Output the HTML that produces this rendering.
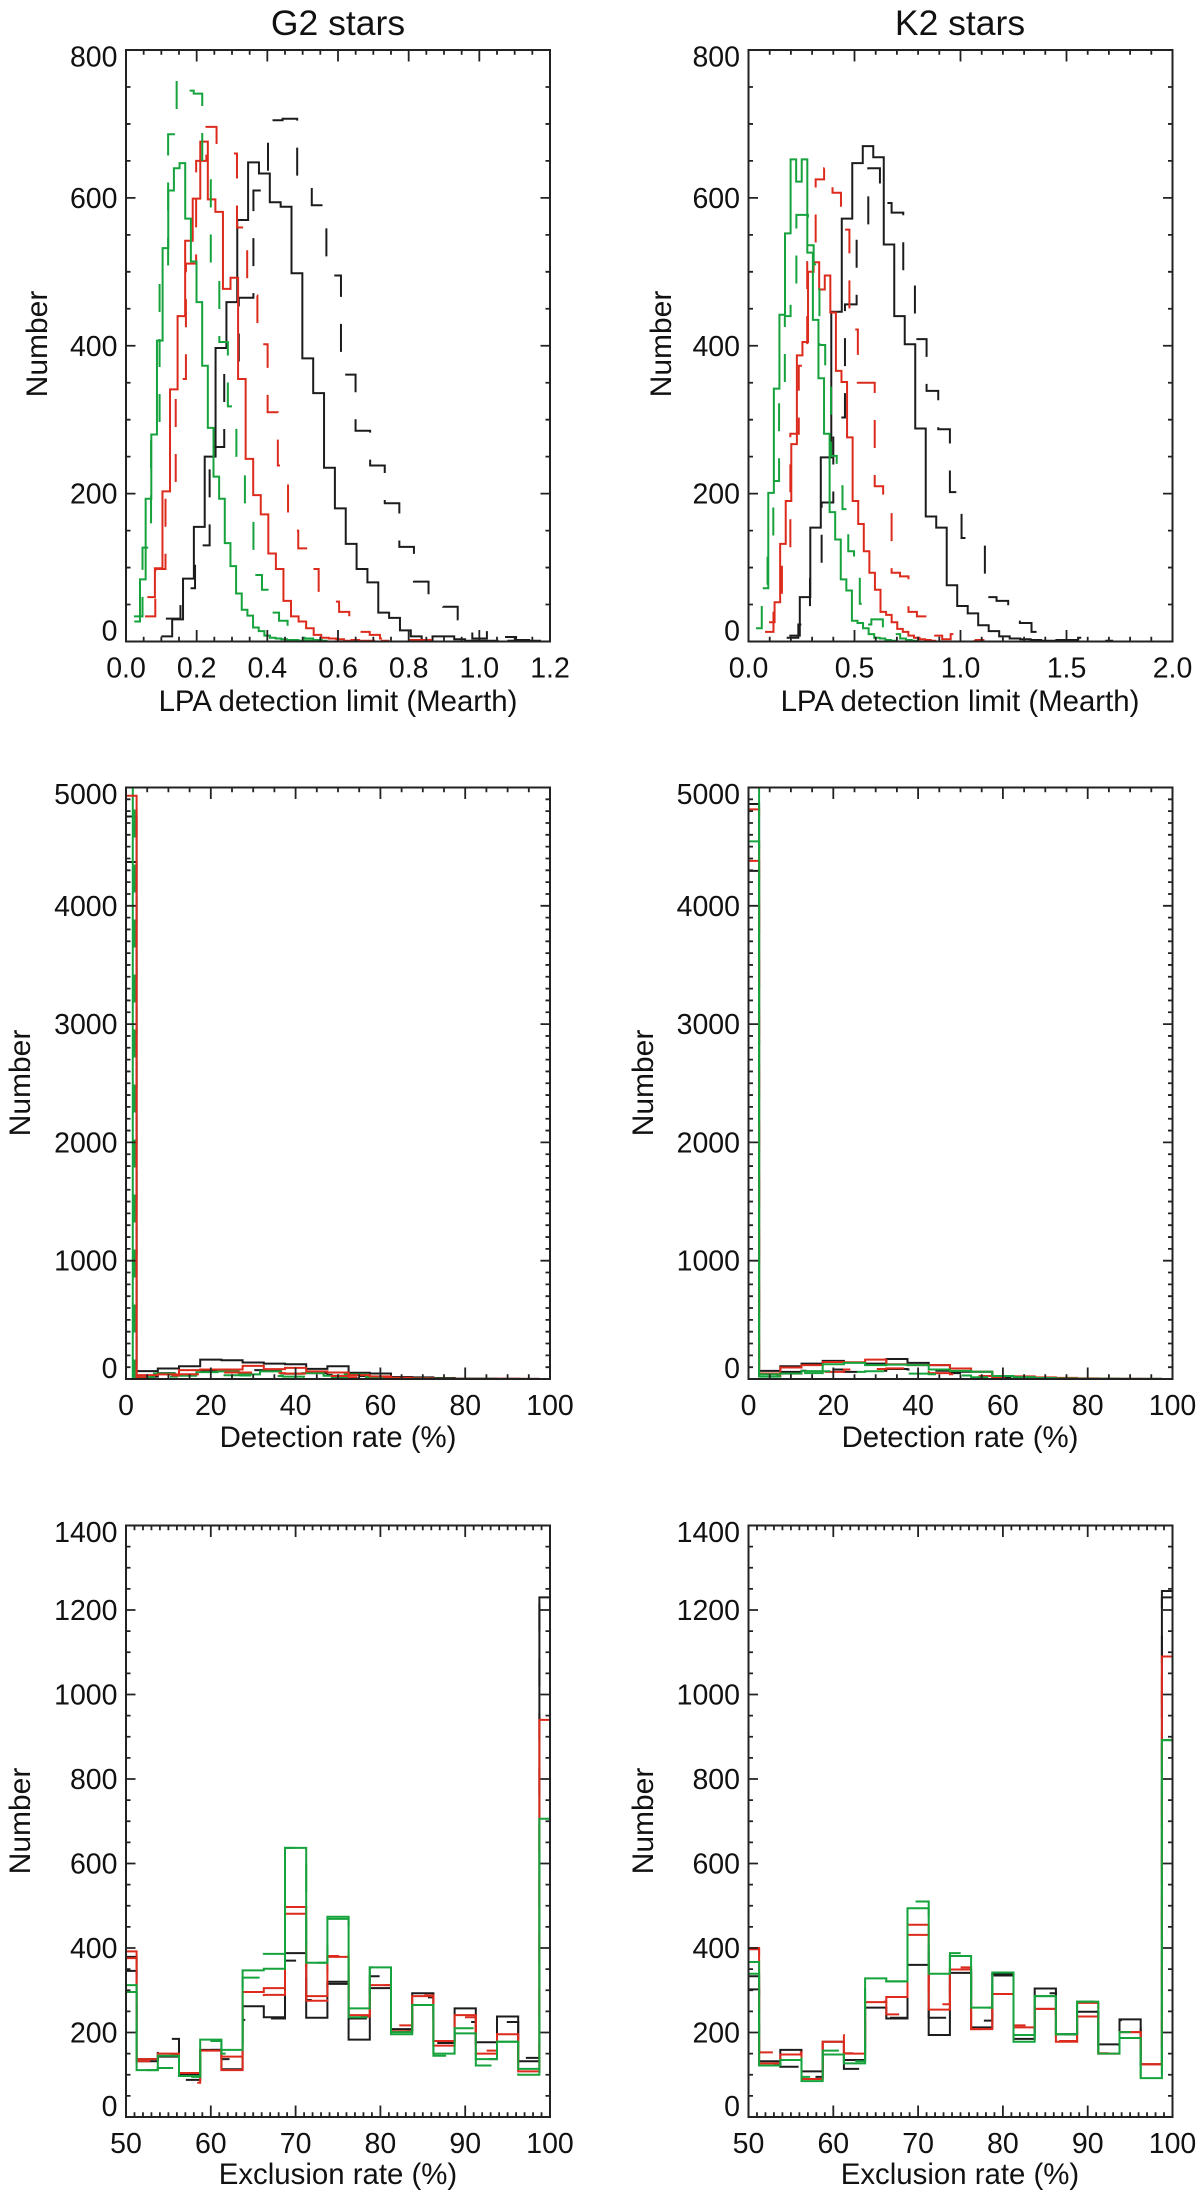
<!DOCTYPE html>
<html lang="en">
<head>
<meta charset="utf-8">
<title>LPA detection limit, detection rate and exclusion rate histograms</title>
<style>
html,body{margin:0;padding:0;background:#fff;width:1200px;height:2200px;overflow:hidden}
svg{display:block}
text{font-family:"Liberation Sans",Arial,sans-serif;fill:#111}
.tick{font-size:28.5px}
.axt{font-size:29.4px}
.yt{font-size:30px}
.ttl{font-size:35.5px}
</style>
</head>
<body>
<svg id="fig" xmlns="http://www.w3.org/2000/svg" width="1200" height="2200" viewBox="0 0 1200 2200">
  <rect width="1200" height="2200" fill="#fff"/>
  <text class="ttl" x="338" y="35" text-anchor="middle">G2 stars</text>
  <text class="ttl" x="960" y="35" text-anchor="middle">K2 stars</text>

  <text class="axt" x="338" y="711" text-anchor="middle">LPA detection limit (Mearth)</text>
  <text class="axt" x="960" y="711" text-anchor="middle">LPA detection limit (Mearth)</text>
  <text class="axt" x="338" y="1447" text-anchor="middle">Detection rate (%)</text>
  <text class="axt" x="960" y="1447" text-anchor="middle">Detection rate (%)</text>
  <text class="axt" x="338" y="2184" text-anchor="middle">Exclusion rate (%)</text>
  <text class="axt" x="960" y="2184" text-anchor="middle">Exclusion rate (%)</text>

  <text class="yt" transform="translate(47 344) rotate(-90)" text-anchor="middle">Number</text>
  <text class="yt" transform="translate(671 344) rotate(-90)" text-anchor="middle">Number</text>
  <text class="yt" transform="translate(30 1083) rotate(-90)" text-anchor="middle">Number</text>
  <text class="yt" transform="translate(653 1083) rotate(-90)" text-anchor="middle">Number</text>
  <text class="yt" transform="translate(30 1821) rotate(-90)" text-anchor="middle">Number</text>
  <text class="yt" transform="translate(653 1821) rotate(-90)" text-anchor="middle">Number</text>
</svg>
<script>
/* ---------- tick labels ---------- */
const limitYTicks = [0, 200, 400, 600, 800];
const detectionYTicks = [0, 1000, 2000, 3000, 4000, 5000];
const exclusionYTicks = [0, 200, 400, 600, 800, 1000, 1200, 1400];
const g2LimitXTicks = ["0.0", "0.2", "0.4", "0.6", "0.8", "1.0", "1.2"];
const k2LimitXTicks = ["0.0", "0.5", "1.0", "1.5", "2.0"];
const detectionXTicks = ["0", "20", "40", "60", "80", "100"];
const exclusionXTicks = ["50", "60", "70", "80", "90", "100"];

/* ---------- G2 detection limit: first bin edge, bin width, counts ---------- */
const g2LimitBlackSolidStart = 0.1, g2LimitBlackSolidBin = 0.0307;
const g2LimitBlackSolid = [7,30,85,155,250,397,459,570,648,633,594,588,498,383,336,235,180,132,98,80,39,32,15,7,2,7,7,3,1,1,1,0,1,1,1];
const g2LimitBlackDashStart = 0.1128, g2LimitBlackDashBin = 0.0413;
const g2LimitBlackDash = [31,72,130,263,370,465,610,705,707,620,590,495,361,285,238,187,128,81,63,47,30,4,16,6,2,2];
const g2LimitRedSolidStart = 0.0604, g2LimitRedSolidBin = 0.0214;
const g2LimitRedSolid = [60,99,203,341,440,542,599,676,598,581,477,492,355,247,198,172,119,98,55,34,27,18,9,5,4,3,1,2,1,1,0,1];
const g2LimitRedDashStart = 0.054, g2LimitRedDashBin = 0.0289;
const g2LimitRedDash = [34,98,215,355,511,650,696,660,660,560,468,402,310,238,150,126,98,54,54,40,19,13,9,4,0,0,2,2,1];
const g2LimitGreenSolidStart = 0.0236, g2LimitGreenSolidBin = 0.016;
const g2LimitGreenSolid = [27,84,193,280,407,532,610,640,647,572,514,459,373,289,223,193,133,102,65,43,35,19,14,8,5,4,3,2,2,1,1,1];
const g2LimitGreenDashStart = 0.0226, g2LimitGreenDashBin = 0.02415;
const g2LimitGreenDash = [34,127,277,510,686,761,745,741,624,495,405,318,236,179,90,70,39,28,20,5,4,2,1,1];

/* ---------- K2 detection limit ---------- */
const k2LimitBlackSolidStart = 0.1925, k2LimitBlackSolidBin = 0.0495;
const k2LimitBlackSolid = [8,60,154,249,446,572,647,670,655,537,440,402,288,169,154,76,48,38,22,14,7,4,3,2,1,1,1];
const k2LimitBlackDashStart = 0.18, k2LimitBlackDashBin = 0.055;
const k2LimitBlackDash = [5,23,96,188,303,456,559,640,593,580,495,409,339,287,202,140,132,60,55,37,25,13,4,2,2,5,1,1];
const k2LimitRedSolidStart = 0.0967, k2LimitRedSolidBin = 0.0263;
const k2LimitRedSolid = [26,53,132,190,267,387,405,500,513,476,495,445,366,351,276,190,159,122,93,70,40,36,26,17,13,8,5,3,2,1];
const k2LimitRedDashStart = 0.078, k2LimitRedDashBin = 0.0398;
const k2LimitRedDash = [13,39,127,281,373,541,625,640,607,557,422,350,350,210,184,93,88,40,34,26,8,3,10,8,1,2];
const k2LimitGreenSolidStart = 0.067, k2LimitGreenSolidBin = 0.0263;
const k2LimitGreenSolid = [72,201,342,442,552,652,622,652,526,435,356,281,175,138,84,69,28,25,18,10,5,4,2,1];
const k2LimitGreenDashStart = 0.0354, k2LimitGreenDashBin = 0.0272;
const k2LimitGreenDash = [18,75,132,217,347,440,484,577,577,536,510,401,345,251,210,179,122,114,51,23,30,30,8,5,10,4,2,1];

/* ---------- G2 detection rate (bins of 5 %, centred near multiples of 5) ---------- */
const detectionStart = -2.5, detectionBin = 5;
const g2DetGreenSolidStart = -3.4, g2DetGreenDashStart = -3.0;
const g2DetBlackSolid = [4755,67,89,108,164,158,139,130,125,86,108,53,47,17,14,8,3,3,2,1];
const g2DetBlackDash = [4370,20,50,60,70,75,75,70,60,50,35,25,15,8,5,3,1,0,0,0];
const g2DetRedSolid = [4930,33,39,75,80,80,111,83,94,64,55,33,22,11,5,1,1,1,1,1];
const g2DetRedDash = [5100,15,30,40,50,55,55,50,45,35,25,15,10,5,2,1,1,1,1,1];
const g2DetGreenSolid = [5100,16,47,36,58,64,39,64,44,50,28,39,17,10,6,4,1,1,0,0];
const g2DetGreenDash = [5100,10,20,28,30,32,30,25,20,15,10,6,3,1,1,0,0,0,0,0];

/* ---------- K2 detection rate ---------- */
const k2DetBlackSolid = [4860,69,108,130,153,139,130,169,136,117,61,61,25,19,8,5,3,2,1,1];
const k2DetBlackDash = [4295,30,60,70,80,60,70,85,80,70,50,25,12,5,2,1,1,1,0,0];
const k2DetRedSolid = [4380,47,97,117,144,142,164,125,117,117,89,61,25,22,14,10,5,3,2,1];
const k2DetRedDash = [4815,25,45,70,60,80,85,90,75,50,40,25,12,5,3,1,1,1,1,0];
const k2DetGreenSolid = [5100,39,47,67,125,136,117,122,117,80,69,61,25,16,8,4,2,2,1,1];
const k2DetGreenDash = [4545,20,35,50,65,60,65,60,45,40,30,15,8,3,1,1,0,0,0,0];

/* ---------- exclusion rate (bins of 2.5 %, centred on 50, 52.5 ... 100) ---------- */
const exclusionStart = 48.75, exclusionBin = 2.5;
const g2ExcBlackSolid = [379,132,143,100,159,113,262,236,388,235,315,183,305,208,293,180,257,177,238,132,1230];
const g2ExcBlackDash = [346,137,185,88,159,137,230,233,370,277,320,233,333,203,283,175,225,137,225,140,1225];
const g2ExcRedSolid = [392,137,150,104,157,111,296,305,481,286,379,241,312,203,286,169,241,150,196,108,940];
const g2ExcRedDash = [376,132,148,81,157,143,270,289,497,275,381,238,312,217,288,180,236,157,201,108,700];
const g2ExcGreenSolid = [312,111,145,97,183,159,347,351,637,365,474,257,354,201,265,150,198,137,178,114,706];
const g2ExcGreenDash = [296,111,116,95,180,150,330,386,637,365,469,236,354,196,265,145,210,122,178,100,632];

const k2ExcBlackSolid = [333,132,159,108,178,135,259,233,360,194,341,212,339,185,304,196,249,172,231,125,1245];
const k2ExcBlackDash = [302,127,119,95,151,114,233,235,397,235,349,228,335,185,293,196,249,171,229,146,1230];
const k2ExcRedSolid = [400,127,148,90,178,150,272,284,455,254,349,208,291,212,256,178,238,150,201,125,1090];
const k2ExcRedDash = [397,153,153,95,194,151,273,243,431,267,354,208,291,217,256,180,270,151,201,125,1050];
const k2ExcGreenSolid = [367,122,135,85,148,127,328,321,494,339,381,259,342,178,286,196,273,150,187,92,892];
const k2ExcGreenDash = [339,122,143,95,157,132,310,321,510,339,388,259,330,194,286,196,273,150,201,92,892];

/* ---------- drawing ---------- */
const SVGNS = "http://www.w3.org/2000/svg";
const fig = document.getElementById("fig");
const BLACK = "#1c1c1c", RED = "#dc2b1c", GREEN = "#16a23c";
const PLOT_W = 424, PLOT_H = 591.5;

function node(tag, attrs, parent) {
  const el = document.createElementNS(SVGNS, tag);
  for (const k in attrs) el.setAttribute(k, attrs[k]);
  parent.appendChild(el);
  return el;
}

function drawPanel(p) {
  const g = node("g", {}, fig);
  
  
  const sx = v => p.left + (v - p.xMin) / (p.xMax - p.xMin) * PLOT_W;
  const sy = v => p.top + PLOT_H - (v - p.yMin) / (p.yMax - p.yMin) * PLOT_H;
  const clipId = p.id + "-clip";
  const cp = node("clipPath", {id: clipId}, g);
  node("rect", {x: p.left, y: p.top, width: PLOT_W, height: PLOT_H}, cp);

  const marks = node("g", {"clip-path": "url(#" + clipId + ")", fill: "none", "stroke-width": 2}, g);
  
  
  p.series.forEach(s => {
    let d = "M" + sx(s.start).toFixed(2) + " " + sy(s.counts[0]).toFixed(2);
    s.counts.forEach((c, i) => {
      d += "V" + sy(c).toFixed(2) + "H" + sx(s.start + (i + 1) * s.bin).toFixed(2);
    });
    const path = node("path", {d: d, stroke: s.color}, marks);
    if (s.dash) path.setAttribute("stroke-dasharray", "28 27");
    
    
  });

  const ticks = node("g", {stroke: "#222", "stroke-width": 1.8, fill: "none"}, g);
  
  
  let tk = "";
  const xCount = Math.round((p.xMax - p.xMin) / p.xMinor);
  const xEvery = Math.round(p.xMajor / p.xMinor);
  for (let i = 0; i <= xCount; i++) {
    const x = sx(p.xMin + i * p.xMinor).toFixed(2);
    const len = i % xEvery === 0 ? 11.5 : 4.8;
    tk += "M" + x + " " + (p.top + PLOT_H) + "v" + (-len) + "M" + x + " " + p.top + "v" + len;
  }
  const yCount = Math.round((p.yMax - p.yMin) / p.yMinor);
  const yEvery = Math.round(p.yMajor / p.yMinor);
  for (let i = 0; i <= yCount; i++) {
    const y = sy(p.yMin + i * p.yMinor).toFixed(2);
    const len = i % yEvery === 0 ? 9.5 : 4.5;
    tk += "M" + p.left + " " + y + "h" + len + "M" + (p.left + PLOT_W) + " " + y + "h" + (-len);
  }
  node("path", {d: tk}, ticks);

  const frame = node("rect", {x: p.left, y: p.top, width: PLOT_W, height: PLOT_H, fill: "none", stroke: "#222", "stroke-width": 2}, g);
  
  

  p.yTicks.forEach((v, i) => {
    let y = sy(v) + 10;
    if (i === 0) y = p.top + PLOT_H - 1;
    if (i === p.yTicks.length - 1) y = p.top + 16.5;
    const t = node("text", {class: "tick", x: p.left - 8.5, y: y.toFixed(2), "text-anchor": "end"}, g);
    t.textContent = String(v);
    
    
  });
  p.xTicks.forEach((label, i) => {
    const v = p.xMin + i * p.xMajor;
    const t = node("text", {class: "tick", x: sx(v).toFixed(2), y: p.top + PLOT_H + 36, "text-anchor": "middle"}, g);
    t.textContent = label;
    
    
  });
}

function six(start, bin, bs, bd, rs, rd, gs, gd, gsStart, gdStart) {
  return [
    {name: "black-dashed", color: BLACK, dash: true, start, bin, counts: bd},
    {name: "black-solid", color: BLACK, dash: false, start, bin, counts: bs},
    {name: "green-dashed", color: GREEN, dash: true, start: gdStart === undefined ? start : gdStart, bin, counts: gd},
    {name: "green-solid", color: GREEN, dash: false, start: gsStart === undefined ? start : gsStart, bin, counts: gs},
    {name: "red-dashed", color: RED, dash: true, start, bin, counts: rd},
    {name: "red-solid", color: RED, dash: false, start, bin, counts: rs}
  ];
}
function sixGreenTop(start, bin, bs, bd, rs, rd, gs, gd) {
  const s = six(start, bin, bs, bd, rs, rd, gs, gd);
  return [s[0], s[1], s[4], s[5], s[2], s[3]];
}

const TOPS = [50, 787.5, 1525.5];
const LEFTS = [126, 748.5];

drawPanel({id: "g2-limit", left: LEFTS[0], top: TOPS[0], xMin: 0, xMax: 1.2, xMajor: 0.2, xMinor: 0.05, yMin: 0, yMax: 800, yMajor: 200, yMinor: 50, xTicks: g2LimitXTicks, yTicks: limitYTicks, series: [
  {name: "black-dashed", color: BLACK, dash: true, start: g2LimitBlackDashStart, bin: g2LimitBlackDashBin, counts: g2LimitBlackDash},
  {name: "black-solid", color: BLACK, dash: false, start: g2LimitBlackSolidStart, bin: g2LimitBlackSolidBin, counts: g2LimitBlackSolid},
  {name: "red-dashed", color: RED, dash: true, start: g2LimitRedDashStart, bin: g2LimitRedDashBin, counts: g2LimitRedDash},
  {name: "red-solid", color: RED, dash: false, start: g2LimitRedSolidStart, bin: g2LimitRedSolidBin, counts: g2LimitRedSolid},
  {name: "green-dashed", color: GREEN, dash: true, start: g2LimitGreenDashStart, bin: g2LimitGreenDashBin, counts: g2LimitGreenDash},
  {name: "green-solid", color: GREEN, dash: false, start: g2LimitGreenSolidStart, bin: g2LimitGreenSolidBin, counts: g2LimitGreenSolid}
]});
drawPanel({id: "k2-limit", left: LEFTS[1], top: TOPS[0], xMin: 0, xMax: 2, xMajor: 0.5, xMinor: 0.1, yMin: 0, yMax: 800, yMajor: 200, yMinor: 50, xTicks: k2LimitXTicks, yTicks: limitYTicks, series: [
  {name: "black-dashed", color: BLACK, dash: true, start: k2LimitBlackDashStart, bin: k2LimitBlackDashBin, counts: k2LimitBlackDash},
  {name: "black-solid", color: BLACK, dash: false, start: k2LimitBlackSolidStart, bin: k2LimitBlackSolidBin, counts: k2LimitBlackSolid},
  {name: "red-dashed", color: RED, dash: true, start: k2LimitRedDashStart, bin: k2LimitRedDashBin, counts: k2LimitRedDash},
  {name: "red-solid", color: RED, dash: false, start: k2LimitRedSolidStart, bin: k2LimitRedSolidBin, counts: k2LimitRedSolid},
  {name: "green-dashed", color: GREEN, dash: true, start: k2LimitGreenDashStart, bin: k2LimitGreenDashBin, counts: k2LimitGreenDash},
  {name: "green-solid", color: GREEN, dash: false, start: k2LimitGreenSolidStart, bin: k2LimitGreenSolidBin, counts: k2LimitGreenSolid}
]});
drawPanel({id: "g2-detection", left: LEFTS[0], top: TOPS[1], xMin: 0, xMax: 100, xMajor: 20, xMinor: 5, yMin: 0, yMax: 5000, yMajor: 1000, yMinor: 100, xTicks: detectionXTicks, yTicks: detectionYTicks,
  series: six(detectionStart, detectionBin, g2DetBlackSolid, g2DetBlackDash, g2DetRedSolid, g2DetRedDash, g2DetGreenSolid, g2DetGreenDash, g2DetGreenSolidStart, g2DetGreenDashStart)});
drawPanel({id: "k2-detection", left: LEFTS[1], top: TOPS[1], xMin: 0, xMax: 100, xMajor: 20, xMinor: 5, yMin: 0, yMax: 5000, yMajor: 1000, yMinor: 100, xTicks: detectionXTicks, yTicks: detectionYTicks,
  series: sixGreenTop(detectionStart, detectionBin, k2DetBlackSolid, k2DetBlackDash, k2DetRedSolid, k2DetRedDash, k2DetGreenSolid, k2DetGreenDash)});
drawPanel({id: "g2-exclusion", left: LEFTS[0], top: TOPS[2], xMin: 50, xMax: 100, xMajor: 10, xMinor: 1, yMin: 0, yMax: 1400, yMajor: 200, yMinor: 50, xTicks: exclusionXTicks, yTicks: exclusionYTicks,
  series: sixGreenTop(exclusionStart, exclusionBin, g2ExcBlackSolid, g2ExcBlackDash, g2ExcRedSolid, g2ExcRedDash, g2ExcGreenSolid, g2ExcGreenDash)});
drawPanel({id: "k2-exclusion", left: LEFTS[1], top: TOPS[2], xMin: 50, xMax: 100, xMajor: 10, xMinor: 1, yMin: 0, yMax: 1400, yMajor: 200, yMinor: 50, xTicks: exclusionXTicks, yTicks: exclusionYTicks,
  series: sixGreenTop(exclusionStart, exclusionBin, k2ExcBlackSolid, k2ExcBlackDash, k2ExcRedSolid, k2ExcRedDash, k2ExcGreenSolid, k2ExcGreenDash)});
</script>
</body>
</html>
